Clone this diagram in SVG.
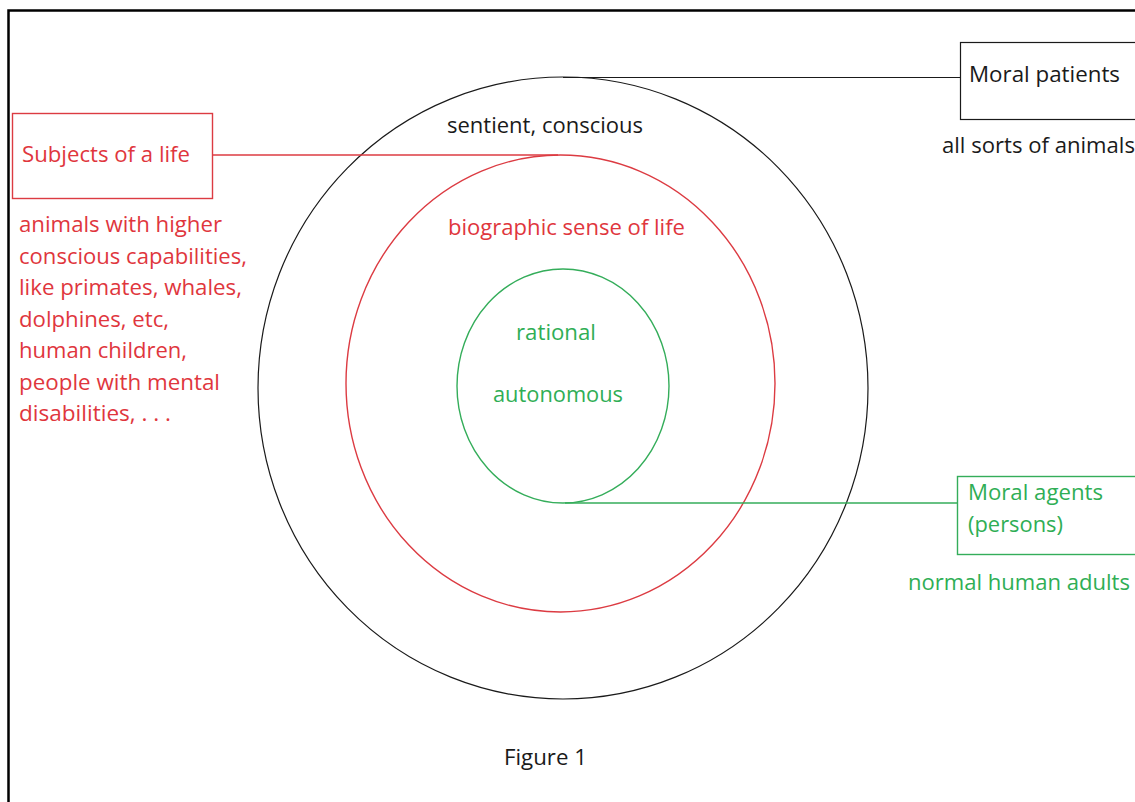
<svg xmlns="http://www.w3.org/2000/svg" width="1135" height="802" viewBox="0 0 1135 802">
<style>
text{font-family:"Open Sans","Liberation Sans",sans-serif;font-size:21px}
.k{fill:#1a1a1a}
.r{fill:#e0363d}
.g{fill:#2fae55}
.sk{stroke:#1a1a1a;fill:none;stroke-width:1.2}
.sr{stroke:#dc3b42;fill:none;stroke-width:1.4}
.sg{stroke:#34ad5a;fill:none;stroke-width:1.4}
</style>
<rect width="1135" height="802" fill="#fff"/>
<path d="M8.5 802V10.5H1135" fill="none" stroke="#000" stroke-width="2.5"/>
<g id="outer-circle">
<ellipse class="sk" cx="563" cy="388" rx="305" ry="311"/>
<text class="k" x="447" y="133" textLength="196" lengthAdjust="spacingAndGlyphs">sentient, conscious</text>
</g>
<g id="middle-circle">
<ellipse class="sr" cx="560.5" cy="383.5" rx="214.5" ry="228.5"/>
<text class="r" x="448" y="235" textLength="237" lengthAdjust="spacingAndGlyphs">biographic sense of life</text>
</g>
<g id="inner-circle">
<ellipse class="sg" cx="563" cy="386" rx="106" ry="117"/>
<text class="g" x="516" y="340" textLength="80" lengthAdjust="spacingAndGlyphs">rational</text>
<text class="g" x="493" y="402" textLength="130" lengthAdjust="spacingAndGlyphs">autonomous</text>
</g>
<g id="connectors">
<line class="sk" x1="563" y1="77.5" x2="960" y2="77.5"/>
<line class="sr" x1="212" y1="155" x2="558" y2="155"/>
<line class="sg" x1="565" y1="503" x2="957" y2="503"/>
</g>
<g id="moral-patients">
<rect class="sk" x="960.5" y="42.5" width="180" height="77"/>
<text class="k" x="969" y="82" textLength="151" lengthAdjust="spacingAndGlyphs">Moral patients</text>
<text class="k" x="942" y="153" textLength="193" lengthAdjust="spacingAndGlyphs">all sorts of animals</text>
</g>
<g id="subjects-of-a-life">
<rect class="sr" x="12.5" y="113.5" width="200" height="85"/>
<text class="r" x="22" y="162" textLength="168" lengthAdjust="spacingAndGlyphs">Subjects of a life</text>
<text class="r" x="19" y="232" textLength="203" lengthAdjust="spacingAndGlyphs">animals with higher</text>
<text class="r" x="19" y="263.5" textLength="228" lengthAdjust="spacingAndGlyphs">conscious capabilities,</text>
<text class="r" x="19" y="295" textLength="223" lengthAdjust="spacingAndGlyphs">like primates, whales,</text>
<text class="r" x="19" y="326.5" textLength="150" lengthAdjust="spacingAndGlyphs">dolphines, etc,</text>
<text class="r" x="19" y="358" textLength="168" lengthAdjust="spacingAndGlyphs">human children,</text>
<text class="r" x="19" y="389.5" textLength="201" lengthAdjust="spacingAndGlyphs">people with mental</text>
<text class="r" x="19" y="421" textLength="152" lengthAdjust="spacingAndGlyphs">disabilities, . . .</text>
</g>
<g id="moral-agents">
<rect class="sg" x="957.5" y="476.5" width="183" height="78"/>
<text class="g" x="968" y="500" textLength="135" lengthAdjust="spacingAndGlyphs">Moral agents</text>
<text class="g" x="968" y="532" textLength="95" lengthAdjust="spacingAndGlyphs">(persons)</text>
<text class="g" x="908" y="590" textLength="222" lengthAdjust="spacingAndGlyphs">normal human adults</text>
</g>
<g id="caption">
<text class="k" x="504" y="765" textLength="83" lengthAdjust="spacingAndGlyphs">Figure 1</text>
</g>
</svg>
